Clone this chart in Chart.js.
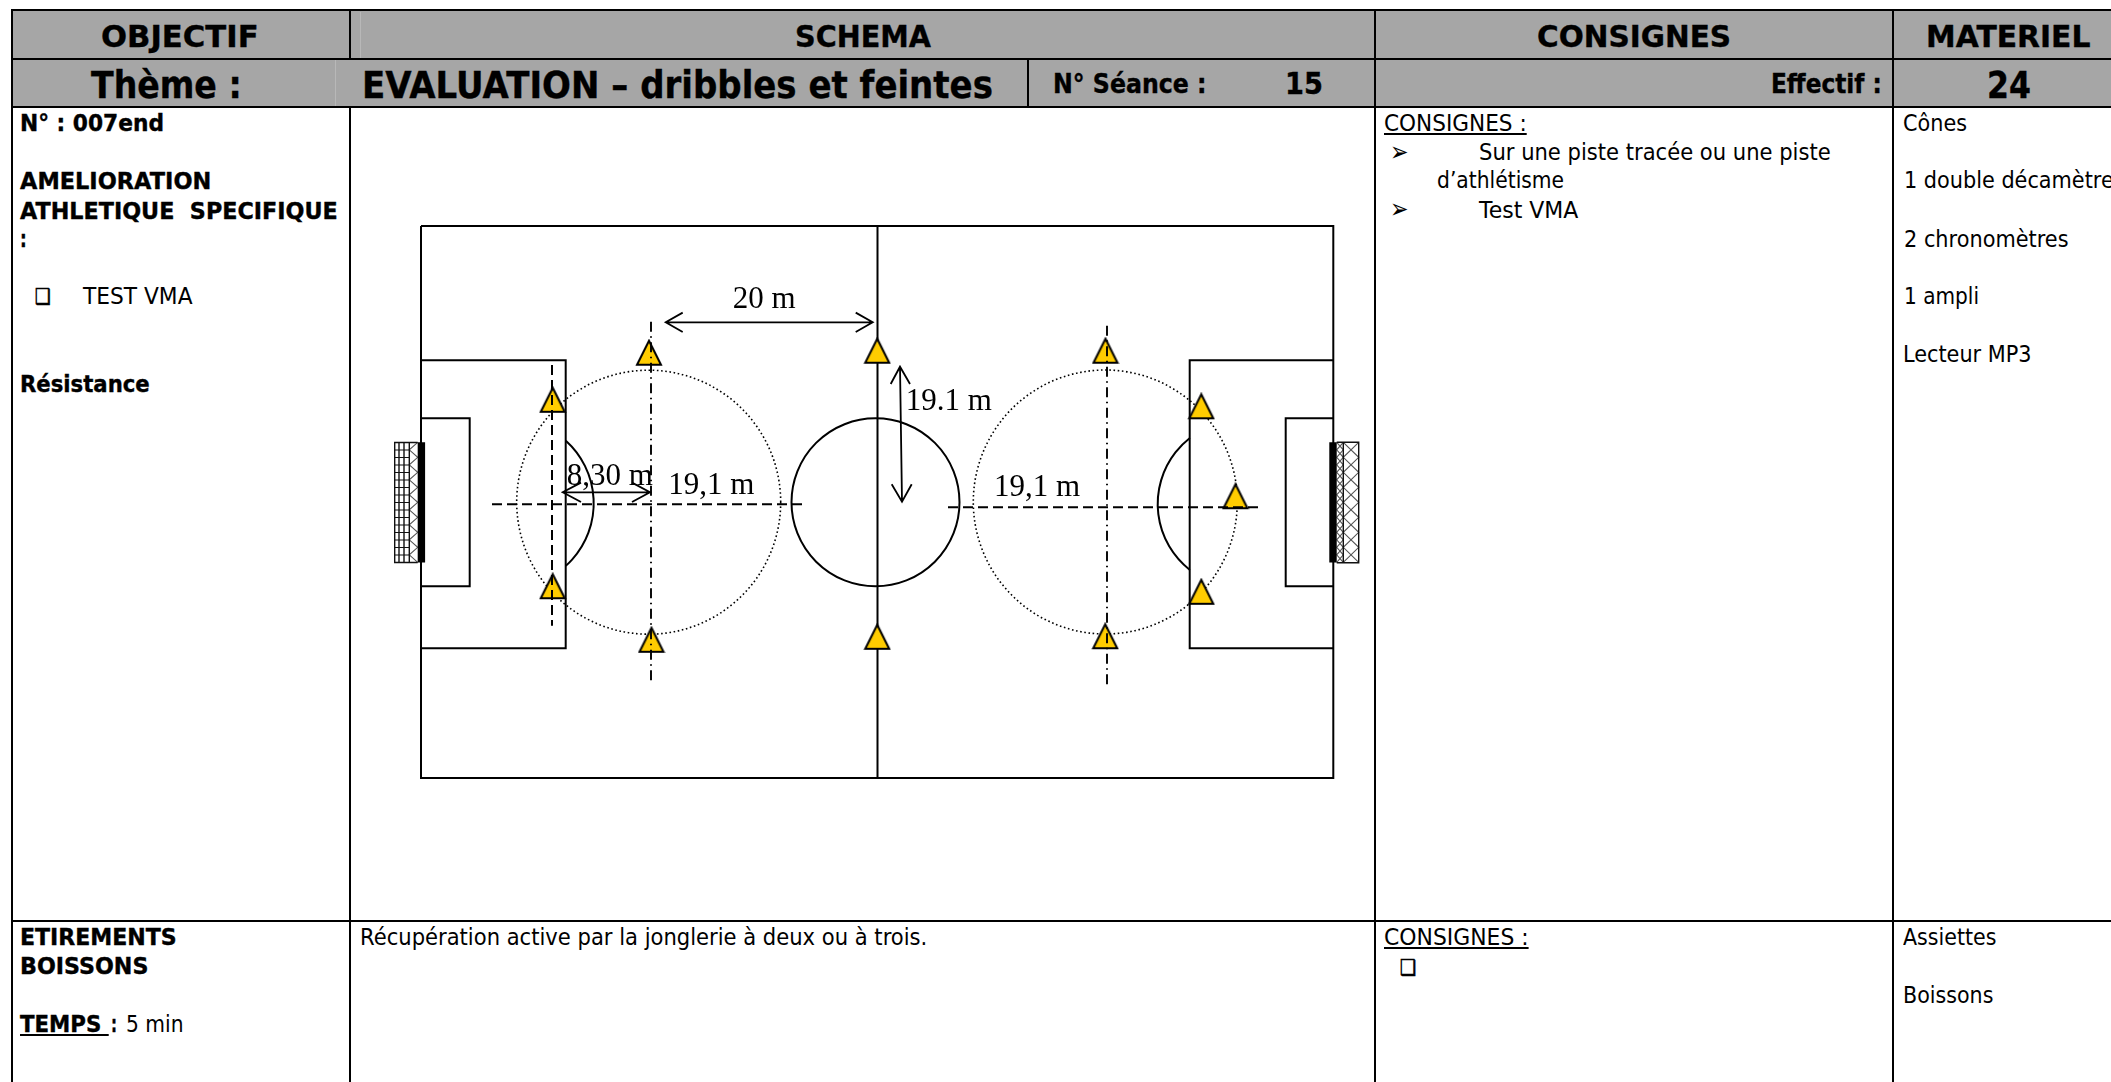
<!DOCTYPE html>
<html>
<head>
<meta charset="utf-8">
<title>Fiche de séance</title>
<script src="https://cdn.jsdelivr.net/npm/chart.js@4"></script>
<style>
    html, body { margin: 0; padding: 0; background: #fff; }
    #page { position: relative; width: 2111px; height: 1082px; overflow: hidden; background: #fff; }
    #page div { position: absolute; }
    #page span { position: absolute; white-space: pre; transform-origin: 0 0; color: #000; }
    #schema { position: absolute; left: 351px; top: 108px; }
</style>
</head>
<body>
<div id="page"><canvas id="schema" width="1024" height="813"></canvas></div>
<script>
// Field drawing, everything in reference pixels from the field's top left corner
const FIELD_X = [0, 912.3, 912.3, 0, 0, null, 456.5, 456.5]
const FIELD_Y = [0, 0, 552, 552, 0, null, 0, 552]
const LEFT_BOX_X = [0, 144.7, 144.7, 0, null, 0, 48.7, 48.7, 0]
const LEFT_BOX_Y = [134.3, 134.3, 422.3, 422.3, null, 192.3, 192.3, 360.3, 360.3]
const RIGHT_BOX_X = [912.3, 768.7, 768.7, 912.3, null, 912.3, 864.7, 864.7, 912.3]
const RIGHT_BOX_Y = [134.3, 134.3, 422.3, 422.3, null, 192.3, 192.3, 360.3, 360.3]

// Circles: centre circle, the two penalty arcs, the two dotted circles
const ARC_X = [454.5, 88.5, 820.4]
const ARC_Y = [276.3, 277.3, 278]
const ARC_R = [84, 84.2, 83.7]
const ARC_FROM = [0, -48, 128]
const ARC_TO = [360, 48, 232]
const DOTTED_X = [227.7, 684.3]
const DOTTED_Y = [276.2, 276]
const DOTTED_R = [132, 132]

// Cones
const CONE_X = [131.7, 131.7, 228, 230.5, 456.2, 456.2, 684.5, 684.2, 780.3, 780.3, 814.5]
const CONE_Y = [173.8, 360.2, 126.7, 413.8, 124.7, 410.8, 124.7, 410.2, 180.3, 365.8, 270.2]

// Construction lines
const DASH_X = [71, 385.7, null, 131, 131, null, 527, 841.3]
const DASH_Y = [278.3, 278.3, null, 139, 399.7, null, 281.3, 281.3]
const DASHDOT_X = [230, 230, null, 686, 686]
const DASHDOT_Y = [95.7, 455.7, null, 99.7, 459]

// Dimension arrows
const ARROW_X = [261.7, 244.7, 261.7, null, 244.7, 451.7, null, 434.7, 451.7, 434.7, null,
    160, 141.7, 160, null, 141.7, 229, null, 211, 229, 211, null,
    469.7, 479, 489, null, 479, 481, null, 470.7, 481, 490.7]
const ARROW_Y = [86.6, 96.3, 106, null, 96.3, 96.3, null, 86.6, 96.3, 106, null,
    256.6, 266.3, 276, null, 266.3, 266.3, null, 256.6, 266.3, 276, null,
    158, 140.7, 158, null, 140.7, 275.7, null, 258.3, 275.7, 258.3]
const DIM_LABELS = ["20 m", "8,30 m", "19,1 m", "19.1 m", "19,1 m"]
const DIM_X = [311.7, 145.7, 247.3, 484.7, 573]
const DIM_Y = [81.7, 259, 268, 184, 269.7]

// Goals
const LEFT_POST_X = [0.4, 0.4]
const RIGHT_POST_X = [912, 912]
const POST_Y = [216.3, 336.5]
const LEFT_GOAL_X = [-3.3, -26.3, -26.3, -3.3, null, -22, -22, null, -17, -17, null, -11.7, -11.7]
const LEFT_GOAL_Y = [216.5, 216.5, 336.5, 336.5, null, 216.5, 336.5, null, 216.5, 336.5, null, 216.5, 336.5]
const LEFT_NET_ROWS = [224, 231.5, 239, 246.5, 254, 261.5, 269, 276.5, 284, 291.5, 299, 306.5, 314, 321.5, 329]
const LEFT_ZIG_X = [-3.3, -11.7, -3.3, -11.7, -3.3, -11.7, -3.3, -11.7, -3.3, -11.7, -3.3, -11.7, -3.3, -11.7, -3.3, -11.7, -3.3]
const RIGHT_GOAL_X = [915.7, 937.7, 937.7, 915.7, null, 922.3, 922.3]
const RIGHT_GOAL_Y = [216.3, 216.3, 336.7, 336.7, null, 216.3, 336.7]
const NET_NODES = [216.3, 231.3, 246.3, 261.3, 276.3, 291.3, 306.3, 321.3, 336.3]
const NET_ZIG_A = [922.3, 937.7, 922.3, 937.7, 922.3, 937.7, 922.3, 937.7, 922.3]
const NET_ZIG_B = [937.7, 922.3, 937.7, 922.3, 937.7, 922.3, 937.7, 922.3, 937.7]
const SIDE_NODES = [216.3, 223.8, 231.3, 238.8, 246.3, 253.8, 261.3, 268.8, 276.3, 283.8, 291.3, 298.8, 306.3, 313.8, 321.3, 328.8, 336.3]
const SIDE_ZIG_A = [915.7, 922.3, 915.7, 922.3, 915.7, 922.3, 915.7, 922.3, 915.7, 922.3, 915.7, 922.3, 915.7, 922.3, 915.7, 922.3, 915.7]
const SIDE_ZIG_B = [922.3, 915.7, 922.3, 915.7, 922.3, 915.7, 922.3, 915.7, 922.3, 915.7, 922.3, 915.7, 922.3, 915.7, 922.3, 915.7, 922.3]

const GREY = "#a6a6a6"
const page = document.getElementById("page")

function box(x, y, w, h, color) {
    const el = document.createElement("div")
    el.style.cssText = `left:${x}px;top:${y}px;width:${w}px;height:${h}px;background:${color}`
    page.insertBefore(el, page.firstChild)
}

// Sheet background first, ruling goes on top
function rules() {
    const hLines = [[11, 2111, 10], [11, 2111, 59], [11, 2111, 107], [11, 2111, 921]]
    const vLines = [[11.5, 10, 1082], [350, 10, 59], [350, 107, 1082], [1028, 59, 107], [1375, 10, 1082], [1893, 10, 1082]]
    hLines.forEach(l => box(l[0], l[2] - 1, l[1] - l[0], 2, "#000"))
    vLines.forEach(l => box(l[0] - 1, l[1], 2, l[2] - l[1], "#000"))
    box(360, 12, 1, 46, "#b8b8b8")
    box(335, 60, 1, 46, "#b8b8b8")
    box(11, 10, 2100, 97, GREY)
}
rules()

const measure = document.createElement("canvas").getContext("2d")

// Places one text by its left edge and baseline, squeezed to the width it has in the reference
function put(text, left, right, baseline, size, weight, underline, stroke) {
    const font = `${weight} ${size}px "DejaVu Sans"`
    measure.font = font
    const m = measure.measureText(text)
    const asc = m.fontBoundingBoxAscent
    const desc = m.fontBoundingBoxDescent
    const el = document.createElement("span")
    el.textContent = text
    el.style.font = font
    el.style.lineHeight = (asc + desc) + "px"
    el.style.left = left + "px"
    el.style.top = (baseline - asc) + "px"
    el.style.transform = `scaleX(${(right - left) / m.width})`
    if (underline) el.style.textDecoration = "underline"
    if (weight == "bold") el.style.webkitTextStroke = "0.4px #000"
    if (stroke) el.style.webkitTextStroke = stroke + "px #000"
    page.appendChild(el)
}

put("OBJECTIF", 101.4, 259, 46.7, 31, "bold")
put("SCHEMA", 794.5, 930.4, 46.7, 31, "bold")
put("CONSIGNES", 1536.8, 1730.9, 46.7, 31, "bold")
put("MATERIEL", 1925.6, 2090, 46.7, 31, "bold")
put("Thème :", 91.3, 242, 97.5, 37, "bold")
put("EVALUATION – dribbles et feintes", 361.7, 992.6, 97.5, 37, "bold")
put("N° Séance :", 1053.4, 1206.9, 92.7, 26.5, "bold")
put("15", 1284.6, 1322.5, 94.3, 30, "bold")
put("Effectif :", 1770.8, 1881.6, 92.7, 26.5, "bold")
put("24", 1986.5, 2030.4, 97.7, 37, "bold")

put("N° : 007end", 20.3, 164.3, 130.7, 23.5, "bold")
put("AMELIORATION", 20.3, 211.6, 189.3, 23.5, "bold")
put("ATHLETIQUE  SPECIFIQUE", 20.3, 338, 218.7, 23.5, "bold")
put(":", 20.3, 27, 246.7, 23.5, "bold")
put("❑", 35, 51, 304.3, 22, "normal", false, 0.6)
put("TEST VMA", 82.5, 192, 304.3, 23.5, "normal")
put("Résistance", 20.3, 150, 391.7, 23.5, "bold")

put("CONSIGNES :", 1384, 1526.7, 130.7, 23.5, "normal", true)
put("➢", 1389.5, 1408, 161, 27, "normal")
put("Sur une piste tracée ou une piste", 1479.3, 1831, 160, 23.5, "normal")
put("d’athlétisme", 1436.8, 1563.9, 188.3, 23.5, "normal")
put("➢", 1389.5, 1408, 218.3, 27, "normal")
put("Test VMA", 1479.3, 1578.7, 218.3, 23.5, "normal")

put("Cônes", 1902.5, 1966.5, 130.7, 23.5, "normal")
put("1 double décamètre", 1903.8, 2113.5, 188.3, 23.5, "normal")
put("2 chronomètres", 1903.5, 2068, 246.7, 23.5, "normal")
put("1 ampli", 1903.5, 1978.5, 304.3, 23.5, "normal")
put("Lecteur MP3", 1902.5, 2031, 362.3, 23.5, "normal")

put("ETIREMENTS", 20.3, 177, 945, 23.5, "bold")
put("BOISSONS", 20.3, 148.7, 973.5, 23.5, "bold")
put("TEMPS ", 20.3, 109, 1031.7, 23.5, "bold", true)
put(":", 110.5, 116.5, 1031.7, 23.5, "bold")
put("5 min", 126, 183.5, 1031.7, 23.5, "normal")
put("Récupération active par la jonglerie à deux ou à trois.", 360, 927.3, 945, 23.5, "normal")
put("CONSIGNES :", 1384, 1528.6, 945.3, 23.5, "normal", true)
put("❑", 1400, 1416.5, 975.3, 22, "normal", false, 0.6)
put("Assiettes", 1902.6, 1996, 945, 23.5, "normal")
put("Boissons", 1902.6, 1993, 1003.3, 23.5, "normal")

function pts(xs, ys) {
    return xs.map((x, i) => ({ x: x, y: ys[i] }))
}

function line(xs, ys, width, order, extra) {
    return Object.assign({
        data: pts(xs, ys),
        showLine: true,
        spanGaps: false,
        pointRadius: 0,
        borderColor: "#000",
        borderWidth: width,
        borderCapStyle: "butt",
        borderJoinStyle: "miter",
        order: order
    }, extra || {})
}

// Cone marker, a plain triangle is wider and flatter than the ones on the sheet
function coneMarker() {
    const c = document.createElement("canvas")
    c.width = 28
    c.height = 28
    const g = c.getContext("2d")
    g.beginPath()
    g.moveTo(14, 2)
    g.lineTo(26, 26)
    g.lineTo(2, 26)
    g.closePath()
    g.fillStyle = "#ffcc00"
    g.fill()
    g.lineWidth = 2
    g.strokeStyle = "#000"
    g.stroke()
    return c
}

const drawCircles = {
    id: "circles",
    beforeDatasetsDraw(chart) {
        const g = chart.ctx
        const sx = chart.scales.x
        const sy = chart.scales.y
        g.save()
        g.strokeStyle = "#000"
        g.lineWidth = 1.6
        g.setLineDash([1.6, 2.6])
        DOTTED_X.forEach((x, i) => {
            g.beginPath()
            g.arc(sx.getPixelForValue(x), sy.getPixelForValue(DOTTED_Y[i]), sx.getPixelForValue(x + DOTTED_R[i]) - sx.getPixelForValue(x), 0, Math.PI * 2)
            g.stroke()
        })
        g.setLineDash([])
        g.lineWidth = 2
        ARC_X.forEach((x, i) => {
            g.beginPath()
            g.arc(sx.getPixelForValue(x), sy.getPixelForValue(ARC_Y[i]), sx.getPixelForValue(x + ARC_R[i]) - sx.getPixelForValue(x), ARC_FROM[i] * Math.PI / 180, ARC_TO[i] * Math.PI / 180)
            g.stroke()
        })
        g.restore()
    },
    afterDatasetsDraw(chart) {
        const g = chart.ctx
        g.save()
        g.font = '31px "Liberation Serif"'
        g.fillStyle = "#000"
        g.textBaseline = "alphabetic"
        DIM_LABELS.forEach((label, i) => {
            g.fillText(label, chart.scales.x.getPixelForValue(DIM_X[i]), chart.scales.y.getPixelForValue(DIM_Y[i]))
        })
        g.restore()
    }
}

const netRowX = []
const netRowY = []
LEFT_NET_ROWS.forEach(y => {
    netRowX.push(-26.3, -11.7, null)
    netRowY.push(y, y, null)
})

new Chart(document.getElementById("schema").getContext("2d"), {
    type: "scatter",
    data: {
        datasets: [
            line(DASH_X, DASH_Y, 2, 1, { borderDash: [10, 5] }),
            line(DASHDOT_X, DASHDOT_Y, 1.9, 1, { borderDash: [10, 4.5, 1.5, 4.5] }),
            line(ARROW_X, ARROW_Y, 1.8, 0),
            {
                data: pts(CONE_X, CONE_Y),
                pointStyle: coneMarker(),
                pointRadius: 14,
                order: 2
            },
            line(FIELD_X, FIELD_Y, 2, 5),
            line(LEFT_BOX_X, LEFT_BOX_Y, 2, 5),
            line(RIGHT_BOX_X, RIGHT_BOX_Y, 2, 5),
            line(LEFT_POST_X, POST_Y, 7.4, 3),
            line(RIGHT_POST_X, POST_Y, 7.4, 3),
            line(LEFT_GOAL_X, LEFT_GOAL_Y, 1.4, 4, { borderColor: "#111" }),
            line(netRowX, netRowY, 1.2, 4, { borderColor: "#111" }),
            line(LEFT_ZIG_X, SIDE_NODES, 1.1, 4, { borderColor: "#555" }),
            line(RIGHT_GOAL_X, RIGHT_GOAL_Y, 1.4, 4, { borderColor: "#111" }),
            line(NET_ZIG_A, NET_NODES, 1.1, 4, { borderColor: "#555" }),
            line(NET_ZIG_B, NET_NODES, 1.1, 4, { borderColor: "#555" }),
            line(SIDE_ZIG_A, SIDE_NODES, 1.1, 4, { borderColor: "#555" }),
            line(SIDE_ZIG_B, SIDE_NODES, 1.1, 4, { borderColor: "#555" })
        ]
    },
    options: {
        responsive: false,
        animation: false,
        layout: { padding: 0, autoPadding: false },
        scales: {
            x: { type: "linear", min: -70, max: 954, display: false },
            y: { type: "linear", min: -118, max: 695, reverse: true, display: false }
        },
        plugins: {
            legend: { display: false },
            tooltip: { enabled: false }
        }
    },
    plugins: [drawCircles]
})
</script>
</body>
</html>
